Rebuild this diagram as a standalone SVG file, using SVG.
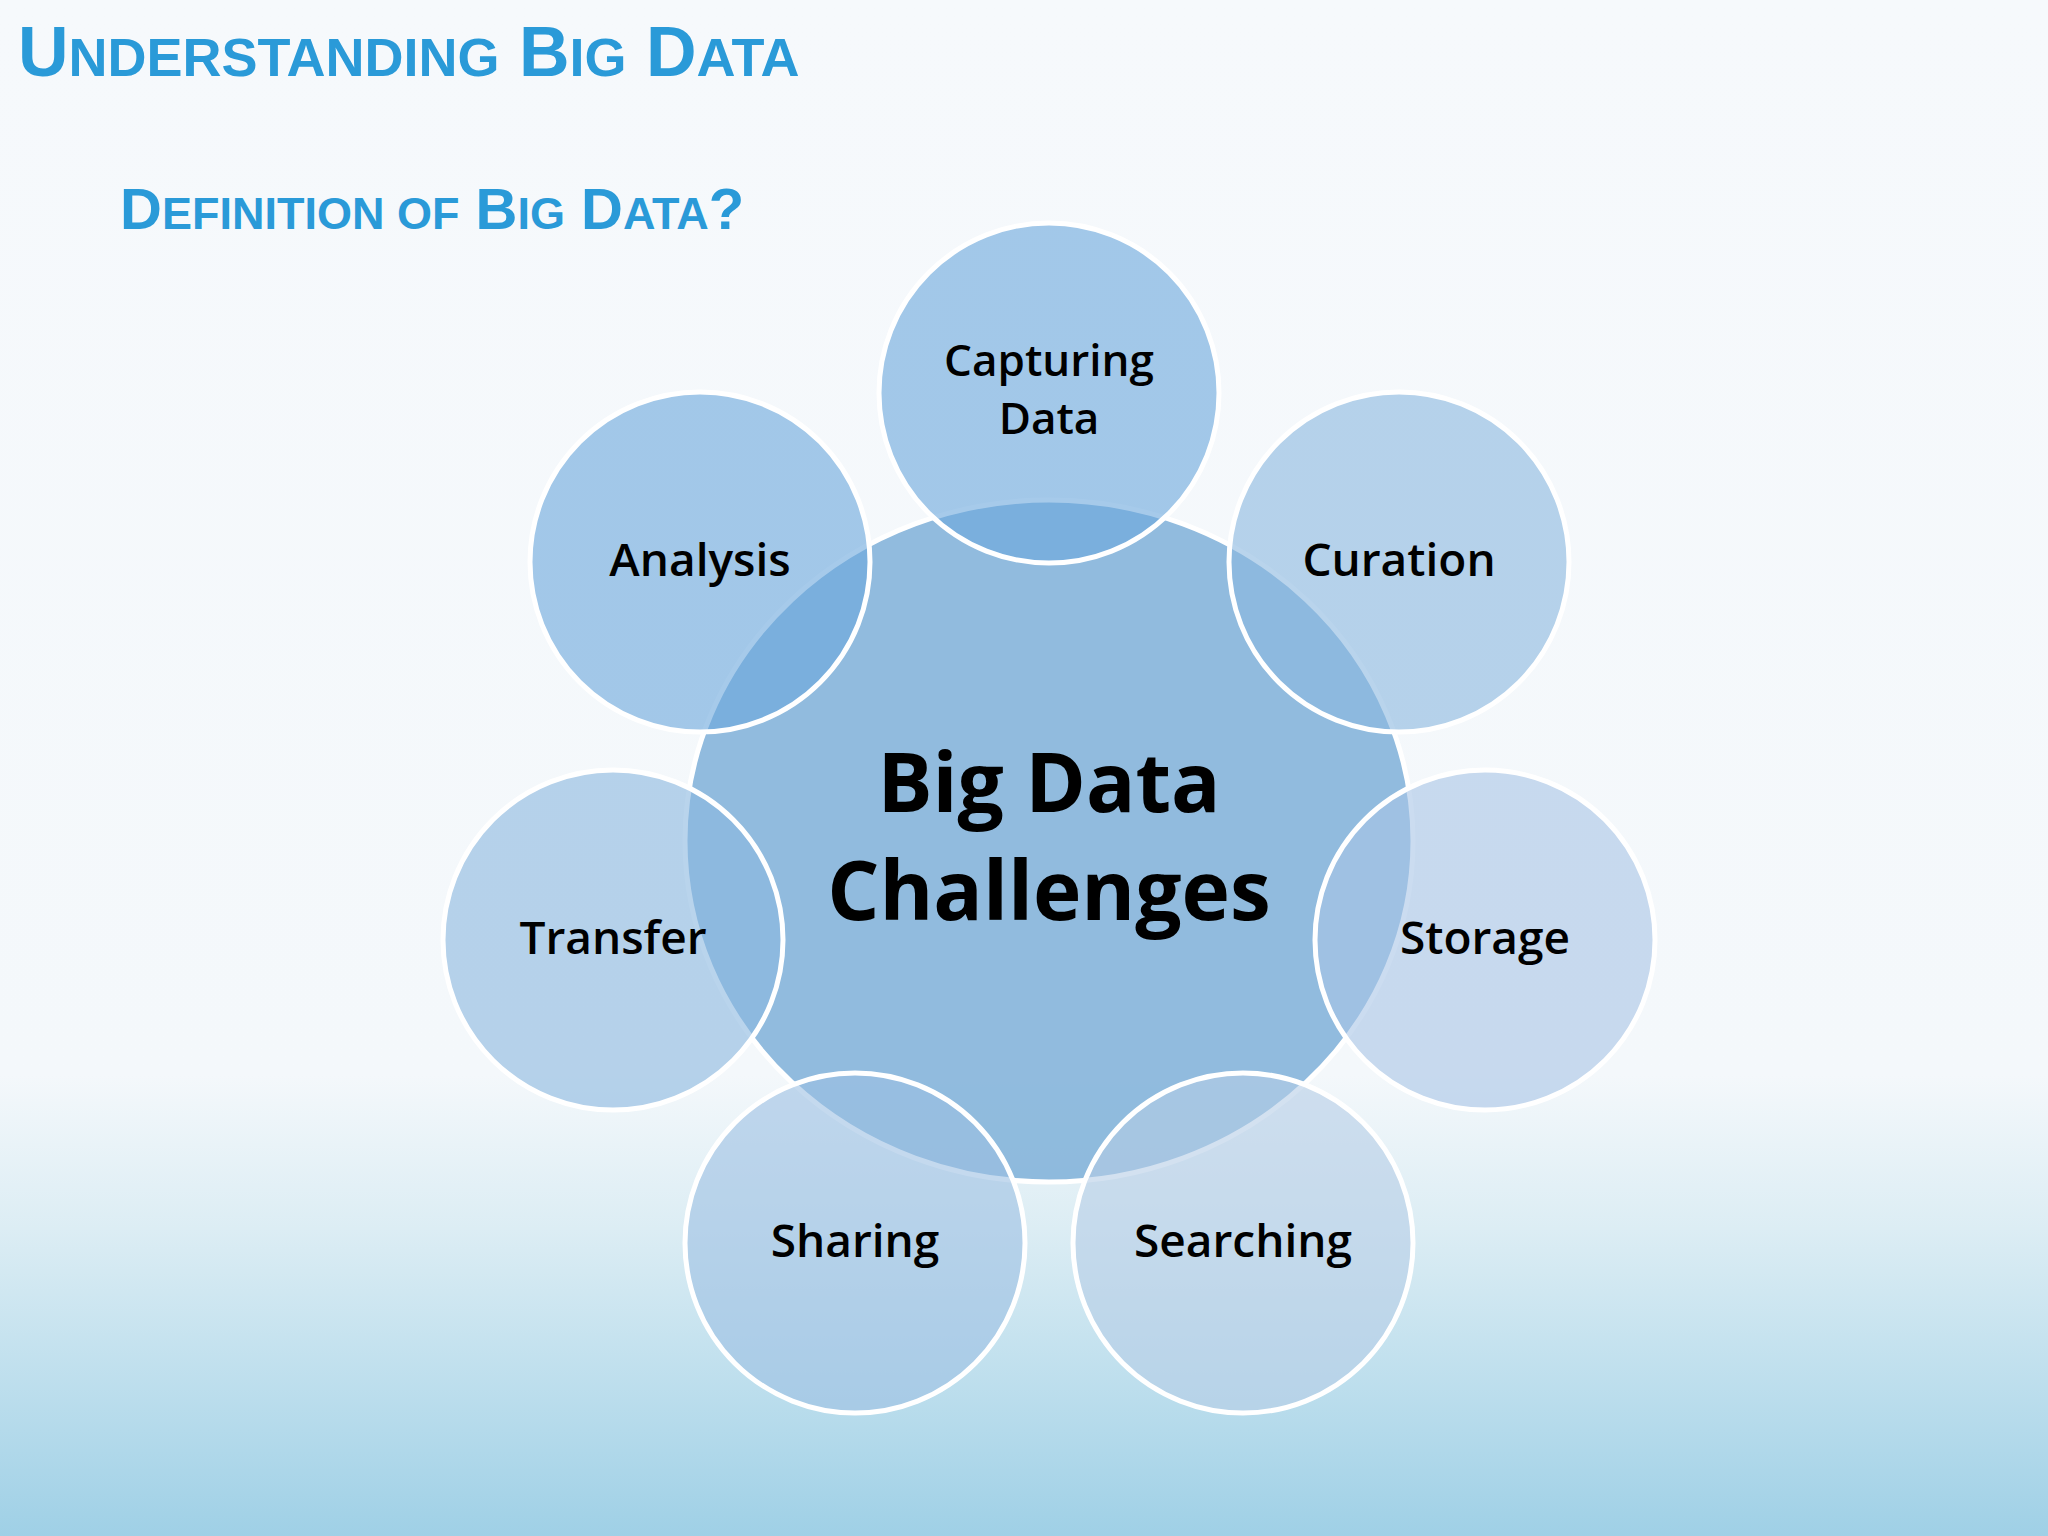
<svg xmlns="http://www.w3.org/2000/svg" width="2048" height="1536" viewBox="0 0 2048 1536">
<defs>
<linearGradient id="bg" x1="0" y1="0" x2="0" y2="1">
<stop offset="0" stop-color="#f6f9fc"/><stop offset="0.7" stop-color="#f4f8fb"/><stop offset="0.8" stop-color="#dcedf4"/><stop offset="1" stop-color="#9fd0e6"/>
</linearGradient>
<style>
.t{font-family:"Liberation Sans",Arial,sans-serif;font-weight:bold;fill:#2a9ad8}
.c{stroke:#ffffff;stroke-width:5}
.l{font-family:"Open Sans","DejaVu Sans",sans-serif;font-size:46px;fill:#000;text-anchor:middle;font-weight:600}
.big{font-size:82px;font-weight:bold}
.sm{font-size:44px}
</style>
</defs>
<rect width="2048" height="1536" fill="url(#bg)"/>
<text class="t" x="18" y="76" font-size="70">U<tspan font-size="54">NDERSTANDING</tspan> B<tspan font-size="54">IG</tspan> D<tspan font-size="54">ATA</tspan></text>
<text class="t" x="120" y="229" font-size="58">D<tspan font-size="45">EFINITION OF</tspan> B<tspan font-size="45">IG</tspan> D<tspan font-size="45">ATA</tspan>?</text>
<g id="center"><ellipse class="c" cx="1049" cy="841" rx="364" ry="341" fill="#7fb0d8" fill-opacity="0.85"/>
<text class="l big" x="1049" y="812">Big Data</text>
<text class="l big" x="1049" y="920">Challenges</text></g>
<g id="capturing"><circle class="c" cx="1049" cy="393" r="170" fill="#6aa7dc" fill-opacity="0.6"/><text class="l sm" x="1049" y="376">Capturing</text><text class="l sm" x="1049" y="434">Data</text></g>
<g id="analysis"><circle class="c" cx="700" cy="562" r="170" fill="#6aa7dc" fill-opacity="0.6"/><text class="l" x="700" y="576">Analysis</text></g>
<g id="curation"><circle class="c" cx="1399" cy="562" r="170" fill="#8bb7e0" fill-opacity="0.6"/><text class="l" x="1399" y="576">Curation</text></g>
<g id="transfer"><circle class="c" cx="613" cy="940" r="170" fill="#8bb7e0" fill-opacity="0.6"/><text class="l" x="613" y="954">Transfer</text></g>
<g id="storage"><circle class="c" cx="1485" cy="940" r="170" fill="#a9c5e6" fill-opacity="0.6"/><text class="l" x="1485" y="954">Storage</text></g>
<g id="sharing"><circle class="c" cx="855" cy="1243" r="170" fill="#9dbfe3" fill-opacity="0.6"/><text class="l" x="855" y="1257">Sharing</text></g>
<g id="searching"><circle class="c" cx="1243" cy="1243" r="170" fill="#b5cde6" fill-opacity="0.6"/><text class="l" x="1243" y="1257">Searching</text></g>
<g id="connectors"/>
</svg>
